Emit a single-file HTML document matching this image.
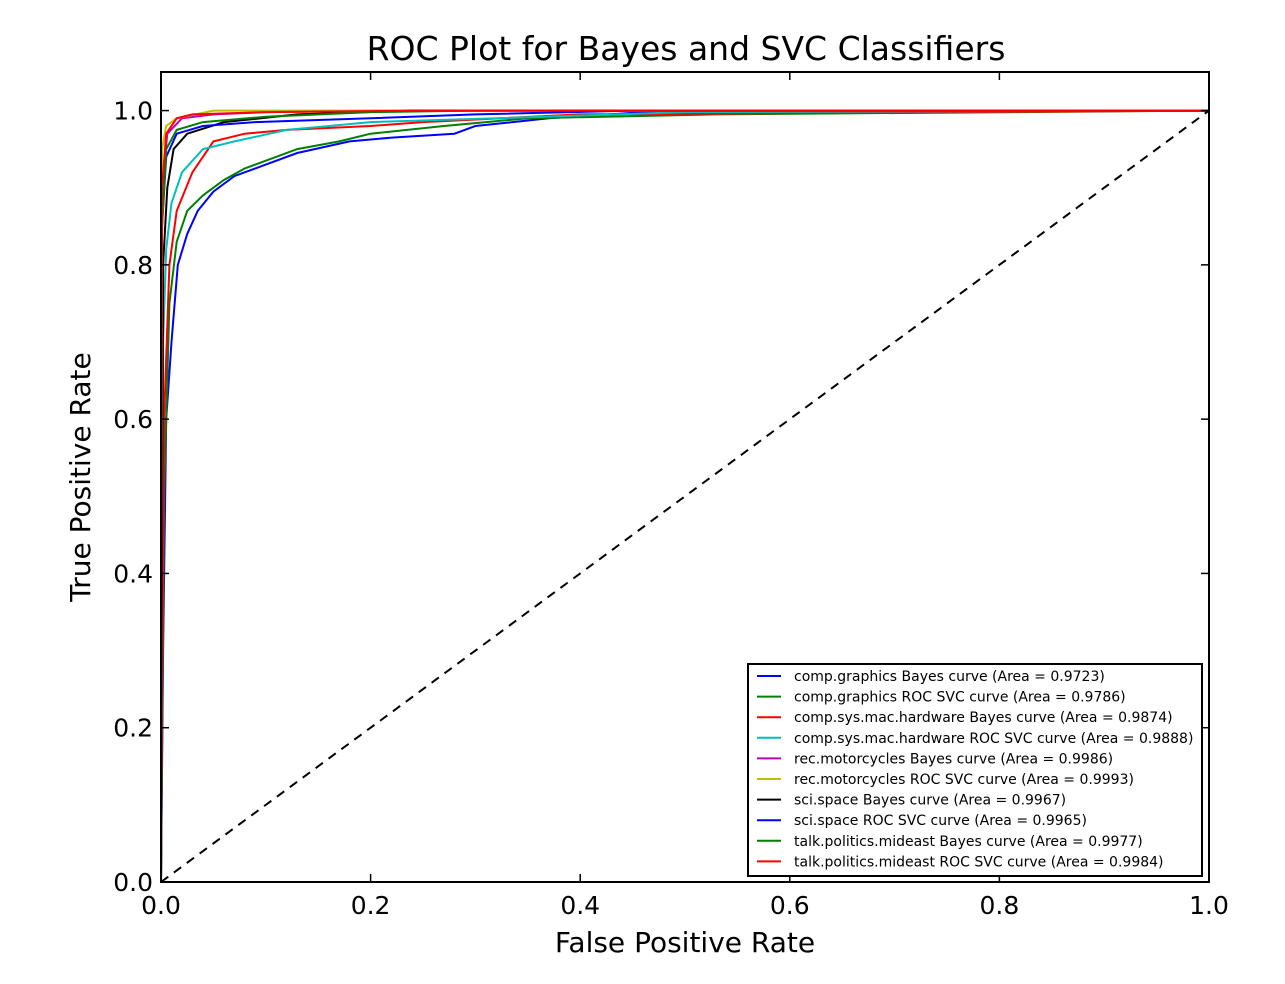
<!DOCTYPE html>
<html><head><meta charset="utf-8"><style>
body{margin:0;background:#fff;font-family:"DejaVu Sans","Liberation Sans",sans-serif}
</style></head><body>
<svg width="1285" height="980" xmlns="http://www.w3.org/2000/svg" font-family="DejaVu Sans, Liberation Sans, sans-serif">
<rect width="1285" height="980" fill="#fff"/>
<text x="686" y="60" text-anchor="middle" font-size="33">ROC Plot for Bayes and SVC Classifiers</text>
<g id="curves"></g>
<g id="axes"></g>
<g id="legend"></g>
<text x="685" y="952" text-anchor="middle" font-size="28">False Positive Rate</text>
<text x="90" y="477" text-anchor="middle" font-size="28" transform="rotate(-90 90 477)">True Positive Rate</text>
</svg>
<script>
const seriesNames=["comp.graphics Bayes curve (Area = 0.9723)","comp.graphics ROC SVC curve (Area = 0.9786)","comp.sys.mac.hardware Bayes curve (Area = 0.9874)","comp.sys.mac.hardware ROC SVC curve (Area = 0.9888)","rec.motorcycles Bayes curve (Area = 0.9986)","rec.motorcycles ROC SVC curve (Area = 0.9993)","sci.space Bayes curve (Area = 0.9967)","sci.space ROC SVC curve (Area = 0.9965)","talk.politics.mideast Bayes curve (Area = 0.9977)","talk.politics.mideast ROC SVC curve (Area = 0.9984)"];
const seriesColors=["#0000ff","#008000","#ff0000","#00bfbf","#bf00bf","#bfbf00","#000000","#0000ff","#008000","#ff0000"];
const fpr0=[0,0.002,0.005,0.01,0.016,0.025,0.035,0.05,0.07,0.1,0.13,0.18,0.22,0.28,0.3,0.37,0.45,1];
const tpr0=[0,0.3,0.6,0.7,0.8,0.84,0.87,0.895,0.915,0.93,0.945,0.96,0.965,0.97,0.98,0.99,0.997,1];
const fpr1=[0,0.003,0.008,0.015,0.025,0.04,0.06,0.08,0.1,0.13,0.17,0.2,0.27,0.35,0.53,1];
const tpr1=[0,0.5,0.75,0.83,0.87,0.89,0.91,0.925,0.935,0.95,0.96,0.97,0.98,0.99,0.995,1];
const fpr2=[0,0.003,0.008,0.015,0.03,0.05,0.08,0.12,0.2,0.25,0.4,1];
const tpr2=[0,0.6,0.8,0.87,0.92,0.96,0.97,0.975,0.98,0.985,0.995,1];
const fpr3=[0,0.002,0.005,0.01,0.02,0.04,0.07,0.12,0.2,0.32,0.5,1];
const tpr3=[0,0.7,0.82,0.88,0.92,0.95,0.96,0.975,0.985,0.99,0.998,1];
const fpr4=[0,0.001,0.006,0.02,0.05,0.1,0.2,1];
const tpr4=[0,0.9,0.97,0.99,0.995,0.998,1,1];
const fpr5=[0,0.001,0.005,0.015,0.05,1];
const tpr5=[0,0.95,0.98,0.99,1,1];
const fpr6=[0,0.002,0.006,0.012,0.025,0.06,0.13,0.24,1];
const tpr6=[0,0.8,0.9,0.95,0.97,0.985,0.995,1,1];
const fpr7=[0,0.001,0.005,0.015,0.04,0.09,0.2,0.3,0.45,1];
const tpr7=[0,0.85,0.94,0.97,0.98,0.985,0.99,0.995,1,1];
const fpr8=[0,0.001,0.005,0.015,0.04,0.1,0.2,0.3,1];
const tpr8=[0,0.85,0.95,0.975,0.985,0.992,0.998,1,1];
const fpr9=[0,0.001,0.005,0.015,0.03,0.1,0.25,1];
const tpr9=[0,0.9,0.97,0.99,0.995,0.998,1,1];
const xTicks=[0,0.2,0.4,0.6,0.8,1.0];
const yTicks=[0,0.2,0.4,0.6,0.8,1.0];
const F=[fpr0,fpr1,fpr2,fpr3,fpr4,fpr5,fpr6,fpr7,fpr8,fpr9];
const T=[tpr0,tpr1,tpr2,tpr3,tpr4,tpr5,tpr6,tpr7,tpr8,tpr9];
const NS="http://www.w3.org/2000/svg";
const L=161,R=1209,TOP=72,B=882;
const sx=v=>L+v*(R-L);
const sy=v=>B-v/1.05*(B-TOP);
function mk(tag,attrs,parent){const e=document.createElementNS(NS,tag);for(const k in attrs)e.setAttribute(k,attrs[k]);parent.appendChild(e);return e;}
const cg=document.getElementById('curves');
for(let i=0;i<F.length;i++){
  const pts=F[i].map((f,j)=>sx(f).toFixed(1)+','+sy(T[i][j]).toFixed(1)).join(' ');
  const p=mk('polyline',{points:pts,fill:'none',stroke:seriesColors[i],'stroke-width':2},cg);
  
  
}
const diag=mk('line',{x1:sx(0),y1:sy(0),x2:sx(1),y2:sy(1),stroke:'#000','stroke-width':2,'stroke-dasharray':'9,7'},cg);


const ax=document.getElementById('axes');
const frame=mk('rect',{x:L,y:TOP,width:R-L,height:B-TOP,fill:'none',stroke:'#000','stroke-width':2},ax);


xTicks.forEach(v=>{
  const x=sx(v);
  mk('line',{x1:x,y1:B,x2:x,y2:B-8,stroke:'#000','stroke-width':1.5},ax);
  mk('line',{x1:x,y1:TOP,x2:x,y2:TOP+8,stroke:'#000','stroke-width':1.5},ax);
  const t=mk('text',{x:x,y:B+32,'text-anchor':'middle','font-size':25},ax);
  t.textContent=v.toFixed(1);
  
  
});
yTicks.forEach(v=>{
  const y=sy(v);
  mk('line',{x1:L,y1:y,x2:L+8,y2:y,stroke:'#000','stroke-width':1.5},ax);
  mk('line',{x1:R,y1:y,x2:R-8,y2:y,stroke:'#000','stroke-width':1.5},ax);
  const t=mk('text',{x:L-8,y:y+9,'text-anchor':'end','font-size':25},ax);
  t.textContent=v.toFixed(1);
  
  
});
const lg=document.getElementById('legend');
const box=mk('rect',{x:748,y:664,width:454,height:212,fill:'#fff',stroke:'#000','stroke-width':2},lg);


seriesNames.forEach((n,i)=>{
  const y=676+i*20.6;
  const g=mk('g',{},lg);
  
  
  mk('line',{x1:757,y1:y,x2:781,y2:y,stroke:seriesColors[i],'stroke-width':2},g);
  const t=mk('text',{x:794,y:y+5,'font-size':14},g);
  t.textContent=n;
});
</script>
</body></html>
